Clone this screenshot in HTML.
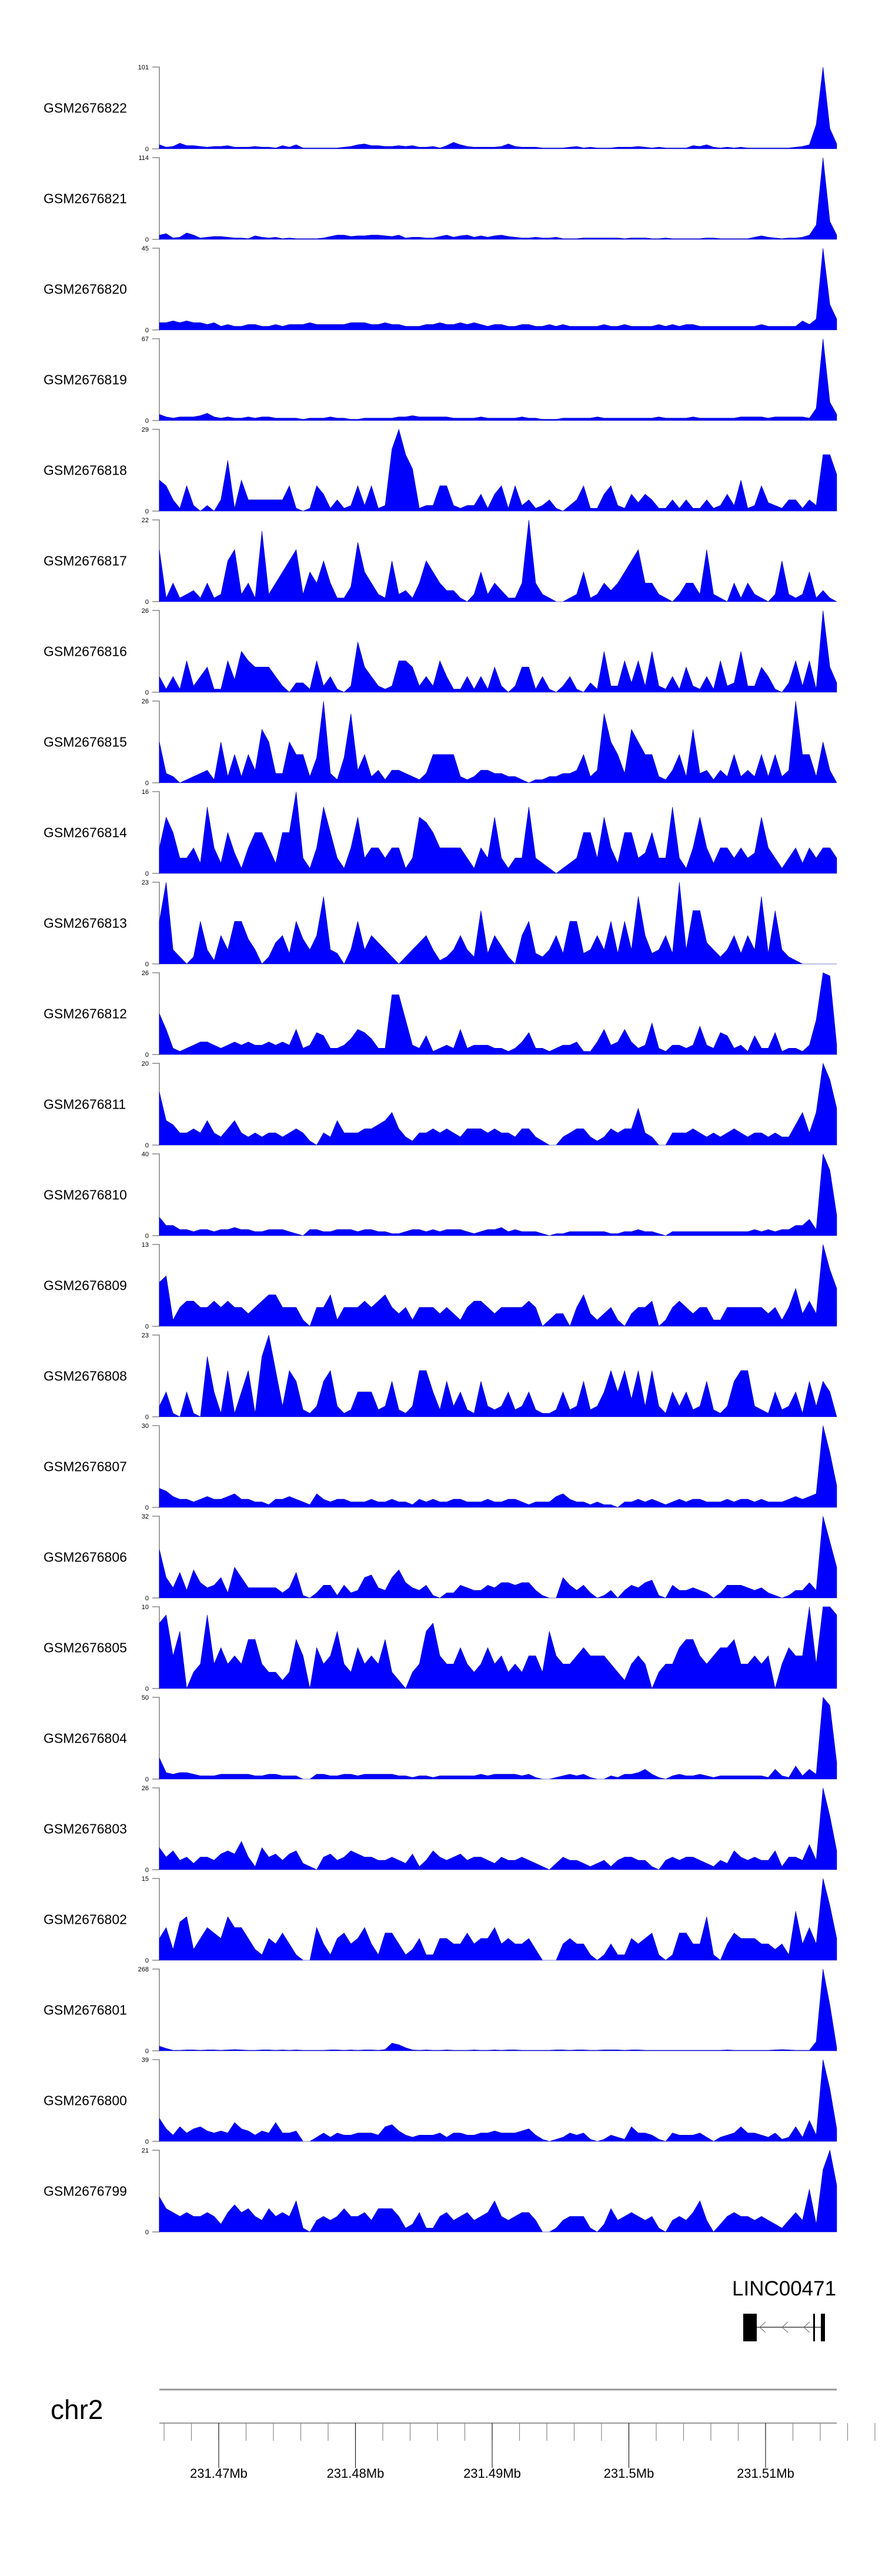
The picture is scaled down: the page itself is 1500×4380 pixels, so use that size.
<!DOCTYPE html>
<html><head><meta charset="utf-8"><style>
html,body{margin:0;padding:0;background:#fff;}
svg{display:block;font-family:"Liberation Sans",sans-serif;}
</style></head><body>
<svg id="chart" width="1500" height="4380" viewBox="0 0 1500 4380" xmlns="http://www.w3.org/2000/svg">
<g id="tracks"></g>
<g id="gene">
  <text x="1245" y="3903" font-size="35" fill="#000">LINC00471</text>
  <line x1="1287" y1="3957" x2="1403" y2="3957" stroke="#444" stroke-width="1.5"/>
  <rect x="1264" y="3934" width="23" height="47" fill="#000"/>
  <rect x="1383" y="3934" width="3" height="47" fill="#000"/>
  <rect x="1396" y="3934" width="7" height="47" fill="#000"/>
  <polyline points="1302,3948 1292,3957 1302,3966" fill="none" stroke="#666" stroke-width="1"/>
  <polyline points="1340,3948 1330,3957 1340,3966" fill="none" stroke="#666" stroke-width="1"/>
  <polyline points="1377,3948 1367,3957 1377,3966" fill="none" stroke="#666" stroke-width="1"/>
</g>
<g id="genome-axis">
  <text x="86" y="4113" font-size="46" fill="#000">chr2</text>
  <line x1="271" y1="4063" x2="1423" y2="4063" stroke="#999" stroke-width="3"/>
  <line x1="271" y1="4120" x2="1423" y2="4120" stroke="#999" stroke-width="2"/>
</g>
</svg>
<script>
const names = ["GSM2676822","GSM2676821","GSM2676820","GSM2676819","GSM2676818","GSM2676817","GSM2676816","GSM2676815","GSM2676814","GSM2676813","GSM2676812","GSM2676811","GSM2676810","GSM2676809","GSM2676808","GSM2676807","GSM2676806","GSM2676805","GSM2676804","GSM2676803","GSM2676802","GSM2676801","GSM2676800","GSM2676799"];
const yMax = [101,114,45,67,29,22,26,26,16,23,26,20,40,13,23,30,32,10,50,26,15,268,39,21];
const axisTicksMb = [231.466,231.468,231.47,231.472,231.474,231.476,231.478,231.48,231.482,231.484,231.486,231.488,231.49,231.492,231.494,231.496,231.498,231.5,231.502,231.504,231.506,231.508,231.51,231.512,231.514,231.516,231.518];
const majorTickLabels = ["231.47Mb","231.48Mb","231.49Mb","231.5Mb","231.51Mb"];
const majorTicksMb = [231.47,231.48,231.49,231.5,231.51];

const t1 = [5,2,3,7,4,4,3,2,3,3,4,2,2,2,3,2,2,1,4,2,5,1,1,1,1,1,1,2,3,5,6,4,4,3,3,4,3,4,2,2,3,1,4,8,5,3,2,2,2,2,3,6,3,2,2,2,1,1,1,1,2,3,1,2,1,1,1,2,2,2,3,2,1,2,1,1,1,1,4,3,5,2,1,2,1,2,1,1,1,1,1,1,1,2,3,5,30,101,25,6];
const t2 = [6,8,2,3,9,6,2,3,4,4,3,2,2,1,5,3,2,3,1,2,1,1,1,1,2,4,6,6,4,5,5,6,6,5,4,6,2,3,3,2,2,4,6,3,5,6,3,5,3,5,6,4,3,2,2,3,2,2,3,1,1,1,2,2,2,2,2,2,1,2,2,2,1,1,2,1,1,1,1,1,2,2,1,1,1,1,1,3,5,3,2,1,2,2,3,6,20,114,25,6];
const t3 = [4,4,5,4,5,4,4,3,4,2,3,2,2,3,3,2,2,3,2,3,3,3,4,3,3,3,3,3,4,4,4,3,3,4,3,3,2,2,2,3,3,4,3,3,4,3,4,3,2,3,3,2,2,3,3,2,2,3,2,3,2,2,2,2,2,3,2,2,3,2,2,2,2,3,2,3,2,3,3,2,2,2,2,2,2,2,2,2,3,2,2,2,2,2,5,3,6,45,14,6];
const t4 = [5,3,2,3,3,3,4,6,3,2,3,2,2,3,2,3,3,2,2,2,2,1,2,2,2,3,2,2,1,1,2,2,2,2,2,3,3,4,3,3,3,3,3,2,2,2,2,3,2,2,2,2,2,3,2,2,1,1,1,2,2,2,2,2,3,2,2,2,2,2,2,2,2,3,2,2,2,2,3,2,2,2,2,2,2,3,3,3,3,2,3,3,3,3,3,2,10,67,15,5];
const t5 = [11,9,4,1,9,2,0,2,0,4,18,1,11,4,4,4,4,4,4,9,1,0,1,9,6,1,4,1,2,9,2,9,1,2,22,29,20,15,1,2,2,9,9,2,1,2,2,6,1,6,9,1,9,2,4,1,2,4,1,0,2,4,9,1,1,6,9,2,1,6,3,6,4,1,1,4,1,4,1,1,4,1,2,6,2,11,1,2,9,3,2,1,4,4,1,4,2,20,20,13];
const t6 = [14,1,5,1,2,3,1,5,1,2,11,14,2,5,1,19,2,5,8,11,14,2,8,5,11,5,1,1,4,16,8,5,2,1,11,2,3,1,5,11,8,5,3,3,1,0,2,8,2,5,3,1,1,5,22,5,2,1,0,0,1,2,8,1,2,5,3,5,8,11,14,5,5,2,1,0,2,5,5,2,14,2,1,0,5,1,5,2,1,0,2,11,2,1,2,8,1,3,1,0];
const t7 = [5,1,5,1,10,2,5,8,1,1,10,4,13,10,8,8,8,5,2,0,3,3,1,10,2,5,1,0,2,16,8,5,2,1,2,10,10,8,2,5,2,10,5,1,1,5,1,5,1,8,2,0,2,8,8,1,5,1,0,2,5,1,0,3,1,13,2,2,10,3,10,2,13,2,1,5,1,8,2,1,5,1,10,2,3,13,2,2,8,5,1,0,3,10,2,10,1,26,8,3];
const t8 = [13,3,2,0,1,2,3,4,1,13,2,9,2,9,4,17,13,3,3,13,9,9,2,8,26,3,1,8,22,4,9,2,4,1,4,4,3,2,1,3,9,9,9,9,2,1,2,4,4,3,3,2,2,1,0,1,1,2,2,3,3,4,9,2,4,22,13,9,3,17,13,9,9,2,1,4,9,2,17,3,4,1,4,2,9,2,4,2,9,2,9,2,4,26,9,9,2,13,4,0];
const t9 = [5,11,8,3,3,5,2,13,5,2,8,4,1,5,8,8,5,2,8,8,16,3,1,5,13,8,3,1,5,11,3,5,5,3,5,5,1,3,11,10,8,5,5,5,5,3,1,5,3,11,3,1,3,3,13,3,2,1,0,1,2,3,8,8,3,11,5,2,8,8,3,4,8,3,3,13,3,1,5,11,5,2,5,5,3,5,3,4,11,5,3,1,3,5,2,5,3,5,5,3];
const t10 = [12,23,4,2,0,2,12,4,1,8,4,12,12,7,4,0,2,6,8,3,12,7,4,8,19,4,3,0,4,12,4,8,6,4,2,0,2,4,6,8,4,1,2,4,8,4,2,15,3,8,5,2,0,8,12,3,2,4,8,3,12,12,3,4,8,4,12,3,12,4,19,8,3,4,8,3,23,4,15,15,6,4,2,4,8,3,8,4,19,3,15,4,2,1,0,0,0,0,0,0];
const t11 = [13,8,2,1,2,3,4,4,3,2,3,4,3,4,3,3,4,3,4,3,8,2,3,7,6,2,2,3,5,8,7,5,2,2,19,19,11,3,2,6,1,2,3,2,8,2,3,3,3,2,2,1,2,4,7,2,2,1,2,3,3,4,1,1,4,8,3,4,8,4,2,3,10,2,1,3,3,2,3,9,3,2,7,6,2,3,1,6,2,2,7,1,2,2,1,3,11,26,25,3];
const t12 = [13,6,5,3,3,4,3,6,3,2,4,6,3,2,3,2,3,3,2,3,4,3,1,0,3,2,6,3,3,3,4,4,5,6,8,4,2,1,3,3,4,3,4,3,2,4,4,4,3,4,3,3,2,4,4,2,1,0,0,2,3,4,4,2,1,2,4,3,4,4,9,3,2,0,0,3,3,3,4,3,2,3,2,3,4,3,2,3,3,2,3,2,2,5,8,3,8,20,16,9];
const t13 = [9,5,5,3,3,2,3,3,2,3,3,4,3,3,2,2,3,3,3,2,1,0,3,3,2,2,3,3,3,2,3,3,2,2,1,1,2,3,3,2,3,2,3,3,3,2,1,2,3,3,4,2,3,2,2,2,1,0,1,1,2,2,2,2,2,2,1,1,2,2,3,2,2,1,0,2,2,2,2,2,2,2,2,2,2,2,2,3,2,3,2,3,3,5,5,8,3,40,32,10];
const t14 = [7,8,1,3,4,4,3,3,4,3,4,3,3,2,3,4,5,5,3,3,3,1,0,3,3,5,1,3,3,3,4,3,4,5,3,2,3,1,3,3,3,2,3,2,1,3,4,4,3,2,3,3,3,3,4,3,0,1,2,2,0,3,5,2,1,2,3,1,0,2,3,3,4,0,1,3,4,3,2,3,3,1,1,3,3,3,3,3,3,2,3,1,3,6,2,4,2,13,9,6];
const t15 = [3,7,1,0,7,1,0,17,7,1,13,1,7,13,1,17,23,13,3,13,10,2,1,3,10,13,3,1,2,7,7,7,2,3,10,2,1,3,13,13,7,2,10,3,7,2,1,10,3,2,3,7,2,3,7,2,1,1,2,7,2,3,10,2,3,7,13,7,13,5,13,3,13,3,1,7,3,7,2,3,10,2,1,3,10,13,13,3,2,1,7,2,3,7,1,10,3,10,7,0];
const t16 = [7,6,4,3,3,2,3,4,3,3,4,5,3,3,2,2,1,3,3,4,3,2,1,5,3,2,3,3,2,2,2,3,2,2,3,2,2,1,3,2,3,2,2,3,3,2,2,2,3,2,2,3,3,2,1,2,2,2,4,5,3,2,2,1,2,1,1,0,2,2,3,2,3,2,1,2,3,2,3,3,2,2,2,3,2,3,3,2,3,2,2,2,3,4,3,4,5,30,20,8];
const t17 = [19,8,4,10,3,11,6,4,5,8,2,12,8,4,4,4,4,4,2,4,10,1,0,2,5,5,1,5,2,3,8,9,4,3,8,11,6,4,3,5,1,0,2,2,5,4,3,3,5,4,6,6,5,6,6,3,1,0,0,8,5,3,5,2,0,1,3,0,3,5,4,6,7,1,0,5,3,3,4,3,2,0,2,5,5,5,4,3,4,2,1,0,1,3,3,6,3,32,22,12];
const t18 = [8,9,4,7,0,2,3,9,3,5,3,4,3,6,6,3,2,2,1,2,6,4,0,5,3,4,7,3,2,5,3,4,3,6,2,1,0,2,3,7,8,4,3,3,5,3,2,3,5,3,4,2,3,2,4,4,2,7,4,3,3,4,5,4,4,4,3,2,1,3,4,3,0,2,3,3,5,6,6,4,3,4,5,5,6,3,3,4,3,4,0,3,5,4,4,12,3,15,13,9];
const t19 = [13,4,3,4,4,3,2,2,2,3,3,3,3,3,2,2,3,3,2,2,2,0,0,3,3,2,2,3,3,2,3,3,3,3,3,2,2,1,2,2,1,2,2,2,2,2,2,3,2,3,3,3,3,2,3,1,0,0,1,2,3,2,3,1,0,0,2,1,3,3,4,6,3,1,0,2,3,2,2,3,2,1,2,2,2,2,2,2,2,1,6,2,1,8,2,6,3,50,45,10];
const t20 = [7,4,6,3,4,2,4,4,3,5,6,5,9,4,1,7,4,5,3,5,6,2,1,0,4,5,3,4,6,5,4,4,3,3,4,3,2,5,1,3,6,4,3,4,5,3,4,4,3,2,4,3,3,4,3,2,1,0,2,4,3,3,2,1,2,3,1,3,4,4,3,3,1,0,3,4,3,4,4,3,2,1,3,2,6,4,3,4,3,3,6,1,4,4,3,8,3,26,17,6];
const t21 = [4,6,2,7,8,2,4,6,5,4,8,6,6,4,2,1,4,3,5,3,1,0,0,6,3,1,4,5,3,4,6,3,1,5,5,3,1,2,4,1,1,4,4,3,3,5,3,4,4,6,3,4,3,3,4,2,0,0,0,3,4,3,3,1,0,1,3,1,1,4,3,4,5,1,0,1,5,5,3,3,8,1,0,3,5,4,4,4,3,3,2,3,1,9,3,6,3,15,10,4];
const t22 = [15,8,2,2,3,3,2,3,3,2,3,4,3,2,2,3,3,2,3,2,3,2,2,2,2,3,3,2,3,2,3,3,2,4,25,20,10,3,2,3,2,2,3,2,2,2,3,2,2,3,2,3,3,2,2,2,2,2,3,3,2,3,3,2,2,3,3,3,2,3,3,2,2,2,2,2,2,2,2,2,2,2,2,3,2,2,2,2,2,2,3,4,3,2,2,2,30,268,150,10];
const t23 = [11,6,3,7,4,6,7,5,4,5,4,9,6,5,3,5,4,9,4,4,5,0,0,2,4,2,4,3,3,4,4,4,3,7,8,5,3,2,3,3,3,4,2,4,4,3,3,4,4,5,4,4,4,5,6,3,1,0,1,2,4,3,4,1,0,1,3,2,1,7,4,4,3,1,0,4,3,3,3,4,2,0,2,3,4,7,4,4,3,2,4,1,2,7,2,10,3,39,25,6];
const t24 = [9,6,5,4,5,4,4,5,4,2,5,7,5,6,4,3,6,4,5,4,8,1,0,3,4,3,4,6,4,4,5,3,6,6,6,4,1,2,5,1,1,4,5,3,4,5,3,4,5,8,4,3,4,5,5,3,0,0,1,3,4,4,4,1,0,2,6,3,4,5,4,3,4,1,0,3,4,3,5,8,3,0,2,4,5,4,4,3,4,3,2,1,3,5,3,11,2,16,21,12];
const series = [t1,t2,t3,t4,t5,t6,t7,t8,t9,t10,t11,t12,t13,t14,t15,t16,t17,t18,t19,t20,t21,t22,t23,t24];

const NS = "http://www.w3.org/2000/svg";
const X0 = 271, X1 = 1423, TOP0 = 114, PITCH = 154, TH = 139;
function xBin(i, n) { return X0 + (X1 - X0) * i / (n - 1); }
function yVal(v, max, top) { return top + TH - (Math.min(v, max) / max) * TH; }
function xMb(mb) { return 1302 + (mb - 231.51) * 23250; }
function mk(tag, attrs, parent) {
  const e = document.createElementNS(NS, tag);
  for (const k in attrs) e.setAttribute(k, attrs[k]);
  parent.appendChild(e);
  return e;
}

const tracks = document.getElementById("tracks");
series.forEach((vals, t) => {
  const top = TOP0 + PITCH * t, bot = top + TH, max = yMax[t];
  const g = mk("g", {}, tracks);
  
  
  const lab = mk("text", {x: 74, y: top + TH / 2 + 8, "font-size": 23, fill: "#000"}, g);
  lab.textContent = names[t];
  
  
  const ax = mk("path", {d: `M259 ${top}H271V${bot}H259`, fill: "none", stroke: "#888", "stroke-width": 1.6}, g);
  
  
  const tMax = mk("text", {x: 253, y: top + 4, "font-size": 11, "text-anchor": "end", fill: "#000"}, g);
  tMax.textContent = String(max);
  
  
  const tMin = mk("text", {x: 253, y: bot + 4, "font-size": 11, "text-anchor": "end", fill: "#000"}, g);
  tMin.textContent = "0";
  
  
  let d = `M${X0} ${bot}`;
  vals.forEach((v, i) => { d += `L${xBin(i, vals.length).toFixed(1)} ${yVal(v, max, top).toFixed(1)}`; });
  d += `L${X1} ${bot}Z`;
  const area = mk("path", {d: d, fill: "#0000ff", stroke: "#0000aa", "stroke-width": 0.6}, g);
  
  
});

const axisG = document.getElementById("genome-axis");
axisTicksMb.forEach(mb => {
  const tk = mk("line", {x1: xMb(mb), y1: 4120, x2: xMb(mb), y2: 4150, stroke: "#888", "stroke-width": 1.2}, axisG);
  
  
});
majorTicksMb.forEach((mb, i) => {
  const tk = mk("line", {x1: xMb(mb), y1: 4120, x2: xMb(mb), y2: 4196, stroke: "#000", "stroke-width": 1}, axisG);
  
  
  const tl = mk("text", {x: xMb(mb), y: 4213, "font-size": 22, "text-anchor": "middle", fill: "#000"}, axisG);
  tl.textContent = majorTickLabels[i];
  
  
});
</script>
</body></html>
